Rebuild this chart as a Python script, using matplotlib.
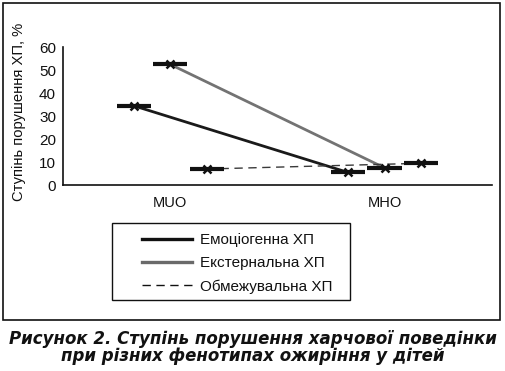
import matplotlib
matplotlib.use('Agg')
from matplotlib import pyplot as plt
from matplotlib.patches import Rectangle

plt.rcParams['font.family'] = ['Liberation Sans', 'DejaVu Sans']

categories = ['MUO', 'MHO']
series_names = ['Емоціогенна ХП', 'Екстернальна ХП', 'Обмежувальна ХП']
emotional = [34.5, 5.5]
external = [52.5, 7.5]
restrictive = [7.0, 9.5]
y_ticks = [0, 10, 20, 30, 40, 50, 60]
y_label = 'Ступінь порушення ХП, %'
caption = ('Рисунок 2. Ступінь порушення харчової поведінки\n'
           'при різних фенотипах ожиріння у дітей')

series = [emotional, external, restrictive]
offsets = [-0.17, 0.0, 0.17]
line_colors = ['#1a1a1a', '#737373', '#3a3a3a']
line_styles = ['-', '-', (0, (6, 4))]
line_widths = [2.0, 2.0, 1.0]

fig = plt.figure(figsize=(5.05, 3.71), dpi=100)
ax = fig.add_axes([0.1248, 0.501, 0.849, 0.372])

for values, off, col, ls, lw, name in zip(series, offsets, line_colors, line_styles,
                                          line_widths, series_names):
    xs = [i + off for i in range(len(categories))]
    ax.plot(xs, values, color=col, linestyle=ls, linewidth=lw, zorder=2, label=name)
    ax.hlines(values, [x - 0.08 for x in xs], [x + 0.08 for x in xs],
              color='#111111', linewidth=3.0, zorder=3)
    ax.plot(xs, values, linestyle='none', marker='x', markersize=6,
            markeredgewidth=1.8, color='#111111', zorder=4)

ax.set_xlim(-0.5, 1.5)
ax.set_ylim(0, 60)
ax.set_xticks(range(len(categories)))
ax.set_xticklabels(categories, fontsize=10.5, color='#111111')
ax.set_yticks(y_ticks)
ax.set_yticklabels([str(t) for t in y_ticks], fontsize=11, color='#111111')
ax.tick_params(axis='both', length=0)
ax.tick_params(axis='x', pad=8)
ax.tick_params(axis='y', pad=5)
for side in ['top', 'right']:
    ax.spines[side].set_visible(False)
for side in ['left', 'bottom']:
    ax.spines[side].set_linewidth(1.2)
    ax.spines[side].set_color('#111111')

fig.text(0.0376, 0.698, y_label, rotation=90, ha='center', va='center',
         fontsize=10.6, color='#111111')

legend_handles = [
    plt.Line2D([], [], color='#111111', linewidth=2.4),
    plt.Line2D([], [], color='#6a6a6a', linewidth=2.4),
    plt.Line2D([], [], color='#111111', linewidth=1.0, linestyle=(0, (6, 4))),
]
leg = fig.legend(legend_handles, series_names, loc='upper left',
                 bbox_to_anchor=(142 / 505, 1 - 233 / 371), fontsize=11, frameon=False,
                 handlelength=3.3, handletextpad=0.5,
                 labelspacing=0.6, borderpad=0, borderaxespad=0)
for t in leg.get_texts():
    t.set_color('#111111')

# legend frame
fig.patches.append(Rectangle((112 / 505, 1 - 300 / 371), 238 / 505, 77 / 371,
                             transform=fig.transFigure, fill=False,
                             edgecolor='#111111', linewidth=1.0))
# outer frame
fig.patches.append(Rectangle((0.006, 0.1375), 0.984, 0.8545, transform=fig.transFigure,
                             fill=False, edgecolor='#111111', linewidth=1.2))

fig.text(0.5, 0.064, caption, ha='center', va='center', fontsize=12,
         fontweight='bold', fontstyle='italic', family='DejaVu Sans',
         color='#111111', linespacing=0.95)

fig.savefig('out.png', dpi=100)
